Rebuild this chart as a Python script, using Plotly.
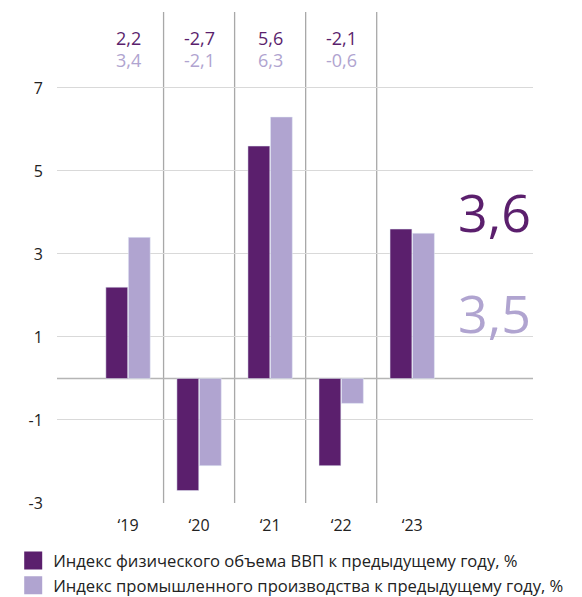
import plotly.graph_objects as go

years = ["‘19", "‘20", "‘21", "‘22", "‘23"]
gdp = [2.2, -2.7, 5.6, -2.1, 3.6]
ind = [3.4, -2.1, 6.3, -0.6, 3.5]
y_ticks = [-3, -1, 1, 3, 5, 7]
name_gdp = "Индекс физического объема ВВП к предыдущему году, %"
name_ind = "Индекс промышленного производства к предыдущему году, %"

DARK = "#5B1F6D"
LIGHT = "#B0A4D0"
FONT = "Open Sans"

x = list(range(len(years)))

fig = go.Figure()
fig.add_trace(go.Bar(x=x, y=gdp, name=name_gdp, marker_color=DARK, showlegend=False))
fig.add_trace(go.Bar(x=x, y=ind, name=name_ind, marker_color=LIGHT, showlegend=False))
# legend entries (larger square swatches)
for nm, col in [(name_gdp, DARK), (name_ind, LIGHT)]:
    fig.add_trace(go.Scatter(x=[None], y=[None], mode="markers", name=nm,
                             marker=dict(symbol="square", size=16, color=col,
                                         line=dict(color=col, width=2)),
                             hoverinfo="skip"))

def fmt(v):
    return f"{v:.1f}".replace(".", ",")

annotations = []
for i in range(len(years) - 1):
    annotations.append(dict(x=x[i], y=8.2, xref="x", yref="y", text=fmt(gdp[i]),
                            showarrow=False, font=dict(family=FONT, size=18, color=DARK)))
    annotations.append(dict(x=x[i], y=7.67, xref="x", yref="y", text=fmt(ind[i]),
                            showarrow=False, font=dict(family=FONT, size=18, color=LIGHT)))
annotations.append(dict(x=5.7, y=4.02, xref="x", yref="y", text=fmt(gdp[-1]), xanchor="right",
                        showarrow=False, font=dict(family=FONT, size=52, color=DARK)))
annotations.append(dict(x=5.7, y=1.6, xref="x", yref="y", text=fmt(ind[-1]), xanchor="right",
                        showarrow=False, font=dict(family=FONT, size=52, color=LIGHT)))

shapes = []
for i in range(len(years) - 1):
    shapes.append(dict(type="line", x0=x[i] + 0.5, x1=x[i] + 0.5, y0=-3, y1=8.83,
                       xref="x", yref="y", line=dict(color="#A8A8A8", width=1.3), layer="below"))
shapes.append(dict(type="line", x0=-1, x1=5.7, y0=0, y1=0, xref="x", yref="y",
                   line=dict(color="#B5B5B5", width=1.3), layer="below"))

fig.update_layout(
    width=574, height=589,
    margin=dict(l=49, r=49, t=4, b=94, autoexpand=False),
    plot_bgcolor="white", paper_bgcolor="white",
    barmode="group", bargap=0.366, bargroupgap=0.03,
    font=dict(family=FONT, size=16, color="#222222"),
    annotations=annotations, shapes=shapes,
    showlegend=True,
    legend=dict(orientation="v", x=-0.092, xanchor="left", y=-0.082, yanchor="top",
                font=dict(family=FONT, size=16.6, color="#222222"),
                tracegroupgap=0, itemsizing="trace", bgcolor="rgba(0,0,0,0)"),
)
fig.update_xaxes(range=[-1, 5.7], tickvals=x, ticktext=years, showgrid=False,
                 zeroline=False, showline=False, ticks="outside", ticklen=8,
                 tickcolor="rgba(0,0,0,0)", tickfont=dict(size=16), automargin=False)
fig.update_yaxes(range=[-3, 8.83], tickvals=y_ticks, ticktext=[str(v) for v in y_ticks],
                 showgrid=True, gridcolor="#D9D9D9", gridwidth=1.3, zeroline=False,
                 showline=False, ticks="outside", ticklen=10, tickcolor="rgba(0,0,0,0)",
                 tickfont=dict(size=16), automargin=False)

fig.write_html("out.html")
